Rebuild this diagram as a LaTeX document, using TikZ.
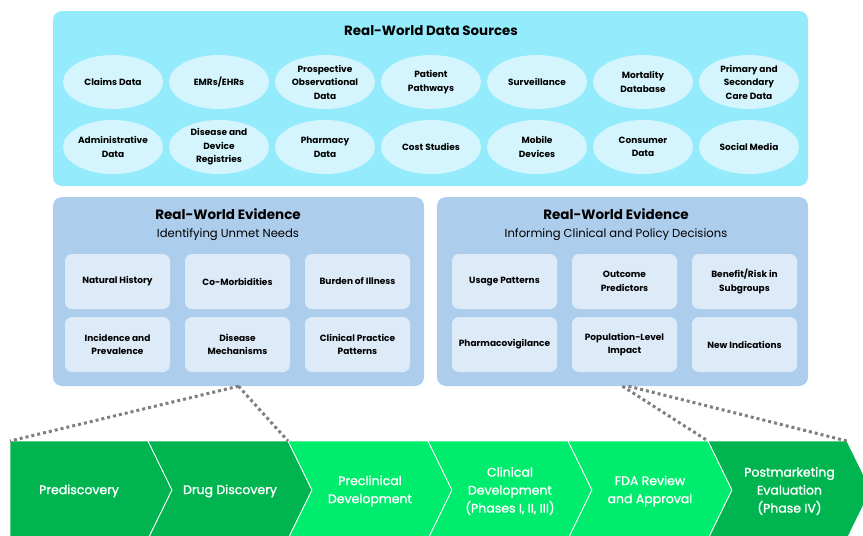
\documentclass[tikz,border=0pt]{standalone}
\usepackage{fontspec}
\setmainfont{Poppins}
\newfontfamily\stagefont{Poppins}[FakeBold = 1.2]
\usetikzlibrary{shapes.geometric}

\definecolor{srcbg}{HTML}{93EBFC}
\definecolor{srcfill}{HTML}{D4F5FD}
\definecolor{rwebg}{HTML}{ADCDEC}
\definecolor{rwefill}{HTML}{DDEAF8}
\definecolor{stagedark}{HTML}{00B550}
\definecolor{stagelight}{HTML}{00EC6C}
\definecolor{linkgray}{HTML}{7F7F7F}

\begin{document}
\begin{tikzpicture}
    [
        x = 1pt, y = -1pt,
        panel/.style = {rounded corners = 9pt, inner sep = 0pt},
        bubble/.style = {ellipse, fill = srcfill, minimum width = 100pt, minimum height = 54pt,
            inner sep = 0pt, align = center, font = \bfseries\fontsize{9}{13.5}\selectfont},
        tile/.style = {rounded corners = 7pt, fill = rwefill, minimum width = 105pt, minimum height = 55pt,
            inner sep = 0pt, align = center, font = \bfseries\fontsize{9}{13.5}\selectfont},
        stagetext/.style = {text = white, align = center, font = \stagefont\fontsize{12.5}{18}\selectfont},
        rwlink/.style = {draw = linkgray, line width = 3pt, dash pattern = on 3pt off 3pt}
    ]

    \useasboundingbox (0,0) rectangle (863,536);
    \clip (0,0) rectangle (863,536);

    % data sources
    \node[panel, fill = srcbg, minimum width = 755pt, minimum height = 175pt] (sources) at (430.5,98.5) {};
    \node[font = \bfseries\fontsize{13.4}{15}\selectfont] (sourcestitle) at (431,31) {Real-World Data Sources};
    \foreach \lab [count = \i from 0] in {Claims Data, EMRs/EHRs, {Prospective\\Observational\\Data},
        {Patient\\Pathways}, Surveillance, {Mortality\\Database}, {Primary and\\Secondary\\Care Data}}
        \node[bubble] (srcA\i) at ({113+106*\i},82) {\lab};
    \foreach \lab [count = \i from 0] in {{Administrative\\Data}, {Disease and\\Device\\Registries},
        {Pharmacy\\Data}, Cost Studies, {Mobile\\Devices}, {Consumer\\Data}, Social Media}
        \node[bubble] (srcB\i) at ({113+106*\i},147) {\lab};

    % evidence panels
    \node[panel, fill = rwebg, minimum width = 371pt, minimum height = 189pt] (needs) at (238.5,291.5) {};
    \node[align = center, font = \fontsize{11.6}{18}\selectfont] (needstitle) at (228,225)
        {\textbf{\fontsize{13.5}{15}\selectfont Real-World Evidence}\\Identifying Unmet Needs};
    \node[panel, fill = rwebg, minimum width = 371pt, minimum height = 189pt] (decisions) at (622.5,291.5) {};
    \node[align = center, font = \fontsize{11.6}{18}\selectfont] (decisionstitle) at (616,225)
        {\textbf{\fontsize{13.5}{15}\selectfont Real-World Evidence}\\Informing Clinical and Policy Decisions};

    \foreach \lab [count = \i from 0] in {Natural History, Co-Morbidities, Burden of Illness}
        \node[tile] (needA\i) at ({117.5+120*\i},281.5) {\lab};
    \foreach \lab [count = \i from 0] in {{Incidence and\\Prevalence}, {Disease\\Mechanisms}, {Clinical Practice\\Patterns}}
        \node[tile] (needB\i) at ({117.5+120*\i},344.5) {\lab};
    \foreach \lab [count = \i from 0] in {Usage Patterns, {Outcome\\Predictors}, {Benefit/Risk in\\Subgroups}}
        \node[tile] (decA\i) at ({504.5+120*\i},281.5) {\lab};
    \foreach \lab [count = \i from 0] in {Pharmacovigilance, {Population-Level\\Impact}, New Indications}
        \node[tile] (decB\i) at ({504.5+120*\i},344.5) {\lab};

    % development stages
    \foreach \xa/\xb/\notch/\col/\name/\lab in {
        10/148/0/stagedark/prediscovery/Prediscovery,
        148/288/24/stagedark/discovery/Drug Discovery,
        288/428/24/stagelight/preclinical/{Preclinical\\Development},
        428/568/24/stagelight/clinical/{Clinical\\Development\\(Phases I, II, III)},
        568/708/24/stagelight/review/{FDA Review\\and Approval},
        708/847/24/stagedark/postmarketing/{Postmarketing\\Evaluation\\(Phase IV)}}
    {
        \fill[\col, draw = white, line width = 0.8pt]
            (\xa,441) -- (\xb,441) -- (\xb+24,490) -- (\xb,539) -- (\xa,539) -- (\xa+\notch,490) -- cycle;
        \coordinate (\name-nw) at (\xa,441);
        \coordinate (\name-ne) at (\xb,441);
        \node[stagetext] (\name) at ({(\xa+\xb)/2+\notch/2},491) {\lab};
    }

    % links
    \draw[rwlink] (needs.south) -- (prediscovery-nw);
    \draw[rwlink] (needs.south) -- (preclinical-nw);
    \draw[rwlink] (decisions.south) -- (postmarketing-nw);
    \draw[rwlink] ([xshift = 6pt]decisions.south) -- (postmarketing-ne);
\end{tikzpicture}
\end{document}
